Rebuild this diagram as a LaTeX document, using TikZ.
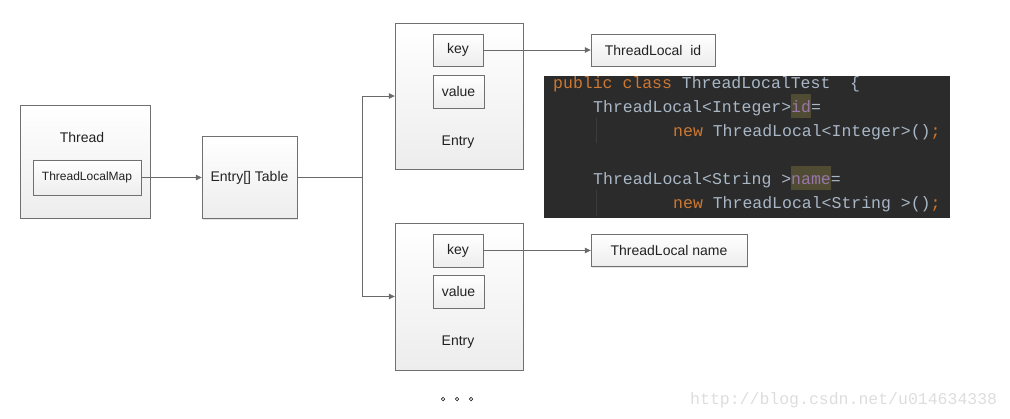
\documentclass[tikz,border=0pt]{standalone}
\usepackage{fontspec}
\setmainfont{Liberation Sans}
\newfontfamily\codefont{Liberation Mono}
\usetikzlibrary{positioning, arrows.meta, shadows}
\definecolor{Dark}{HTML}{222222}
\definecolor{BoxLine}{HTML}{707070}
\definecolor{BoxFill}{HTML}{EDEDED}
\definecolor{ArrowGray}{HTML}{6A6A6A}
\definecolor{CodeBg}{HTML}{2B2B2B}
\definecolor{CodeText}{HTML}{A9B7C6}
\definecolor{CodeKey}{HTML}{CC7832}
\definecolor{CodeVar}{HTML}{9876AA}
\definecolor{CodeHl}{HTML}{4F4C33}
\definecolor{CodeGuide}{HTML}{3C3C3C}
\definecolor{Mark}{HTML}{DDDDDD}
\newcommand{\kw}[1]{\textcolor{CodeKey}{#1}}
\newcommand{\hlvar}[1]{{\setlength\fboxsep{0pt}\colorbox{CodeHl}{\rule[-6pt]{0pt}{24pt}\textcolor{CodeVar}{#1}}}}
\tikzset{
    umlbox/.style={rectangle, draw=BoxLine, top color=white, bottom color=BoxFill, text=Dark,
        inner sep=0pt, font=\fontsize{14}{16}\selectfont,
        drop shadow={shadow xshift=1pt, shadow yshift=-1pt, opacity=0.2}},
    plainlabel/.style={text=Dark, font=\fontsize{14}{16}\selectfont},
    arrow/.style={-{Triangle[length=6pt, width=5.5pt]}, draw=ArrowGray, line width=0.8pt},
    line/.style={draw=ArrowGray, line width=0.8pt},
}

\begin{document}
\begin{tikzpicture}[
        x=1pt, y=-1pt,
        % code lines of the editor snippet
        codeline/.style={anchor=base west, inner sep=0pt, text=CodeText,
            font=\codefont\fontsize{16.5}{24}\selectfont},
        guide/.style={draw=CodeGuide, line width=0.8pt}
    ]
        \useasboundingbox (0,0) rectangle (1010,418);

        % 1. Thread with its map
        \node[umlbox, minimum width=130pt, minimum height=113pt] (thread) at (85,161.5) {};
        \node[plainlabel] (thread_label) at (82,137) {Thread};
        \node[umlbox, minimum width=108pt, minimum height=35pt, font=\fontsize{12}{14}\selectfont]
            (tlmap) at (87,177.5) {ThreadLocalMap};

        % Entry table
        \node[umlbox, minimum width=95pt, minimum height=82pt] (table) at (249.5,177.5) {Entry[] Table};

        % 2. Entries
        \node[umlbox, minimum width=128pt, minimum height=146pt] (entry1) at (459,96) {};
        \node[umlbox, minimum width=50pt, minimum height=32pt] (key1) at (458,50) {key};
        \node[umlbox, minimum width=51pt, minimum height=33pt] (value1) at (458.5,91.5) {value};
        \node[plainlabel] (entry1_label) at (458,142) {Entry};

        \node[umlbox, minimum width=128pt, minimum height=147pt] (entry2) at (459,296.5) {};
        \node[umlbox, minimum width=50pt, minimum height=33pt] (key2) at (458,250.5) {key};
        \node[umlbox, minimum width=51pt, minimum height=33pt] (value2) at (458.5,291.5) {value};
        \node[plainlabel] (entry2_label) at (458,342) {Entry};

        % ThreadLocal targets
        \node[umlbox, minimum width=124pt, minimum height=32pt] (tl_id) at (653,50) {ThreadLocal\ \ id};
        \node[umlbox, minimum width=156pt, minimum height=32pt] (tl_name) at (669,250.5) {ThreadLocal name};

        % 3. Connectors
        \coordinate (fork) at (362,177.5);
        \draw[arrow] (tlmap.east) -- (table.west);
        \draw[line] (table.east) -- (fork);
        \draw[arrow] (fork) |- (entry1.west);
        \draw[arrow] (fork) |- (entry2.west);
        \draw[arrow] (key1.east) -- (tl_id.west);
        \draw[arrow] (key2.east) -- (tl_name.west);

        % 4. Code snippet
        \node[fill=CodeBg, minimum width=406pt, minimum height=142pt, inner sep=0pt, anchor=north west]
            (code) at (544,76) {};
        \draw[guide] (596,118) -- (596,143);
        \draw[guide] (596,190) -- (596,216);
        \node[codeline] (c1) at (553,88) {\kw{public class} ThreadLocalTest\ \ \{};
        \node[codeline] (c2) at (593,112) {ThreadLocal<Integer>\hlvar{id}=};
        \node[codeline] (c3) at (673,136) {\kw{new} ThreadLocal<Integer>()\kw{;}};
        \node[codeline] (c4) at (593,184) {ThreadLocal<String >\hlvar{name}=};
        \node[codeline] (c5) at (673,208) {\kw{new} ThreadLocal<String >()\kw{;}};

        % 5. More entries and watermark
        \foreach \dx [count=\i] in {443,457,471}
            \node[circle, draw=Dark, line width=0.7pt, inner sep=0pt, minimum size=3.5pt] (dot\i) at (\dx,399) {};
        \node[anchor=base west, inner sep=0pt, text=Mark, font=\codefont\fontsize{16.5}{18}\selectfont]
            (mark) at (690,404) {http://blog.csdn.net/u014634338};
    \end{tikzpicture}
\end{document}
